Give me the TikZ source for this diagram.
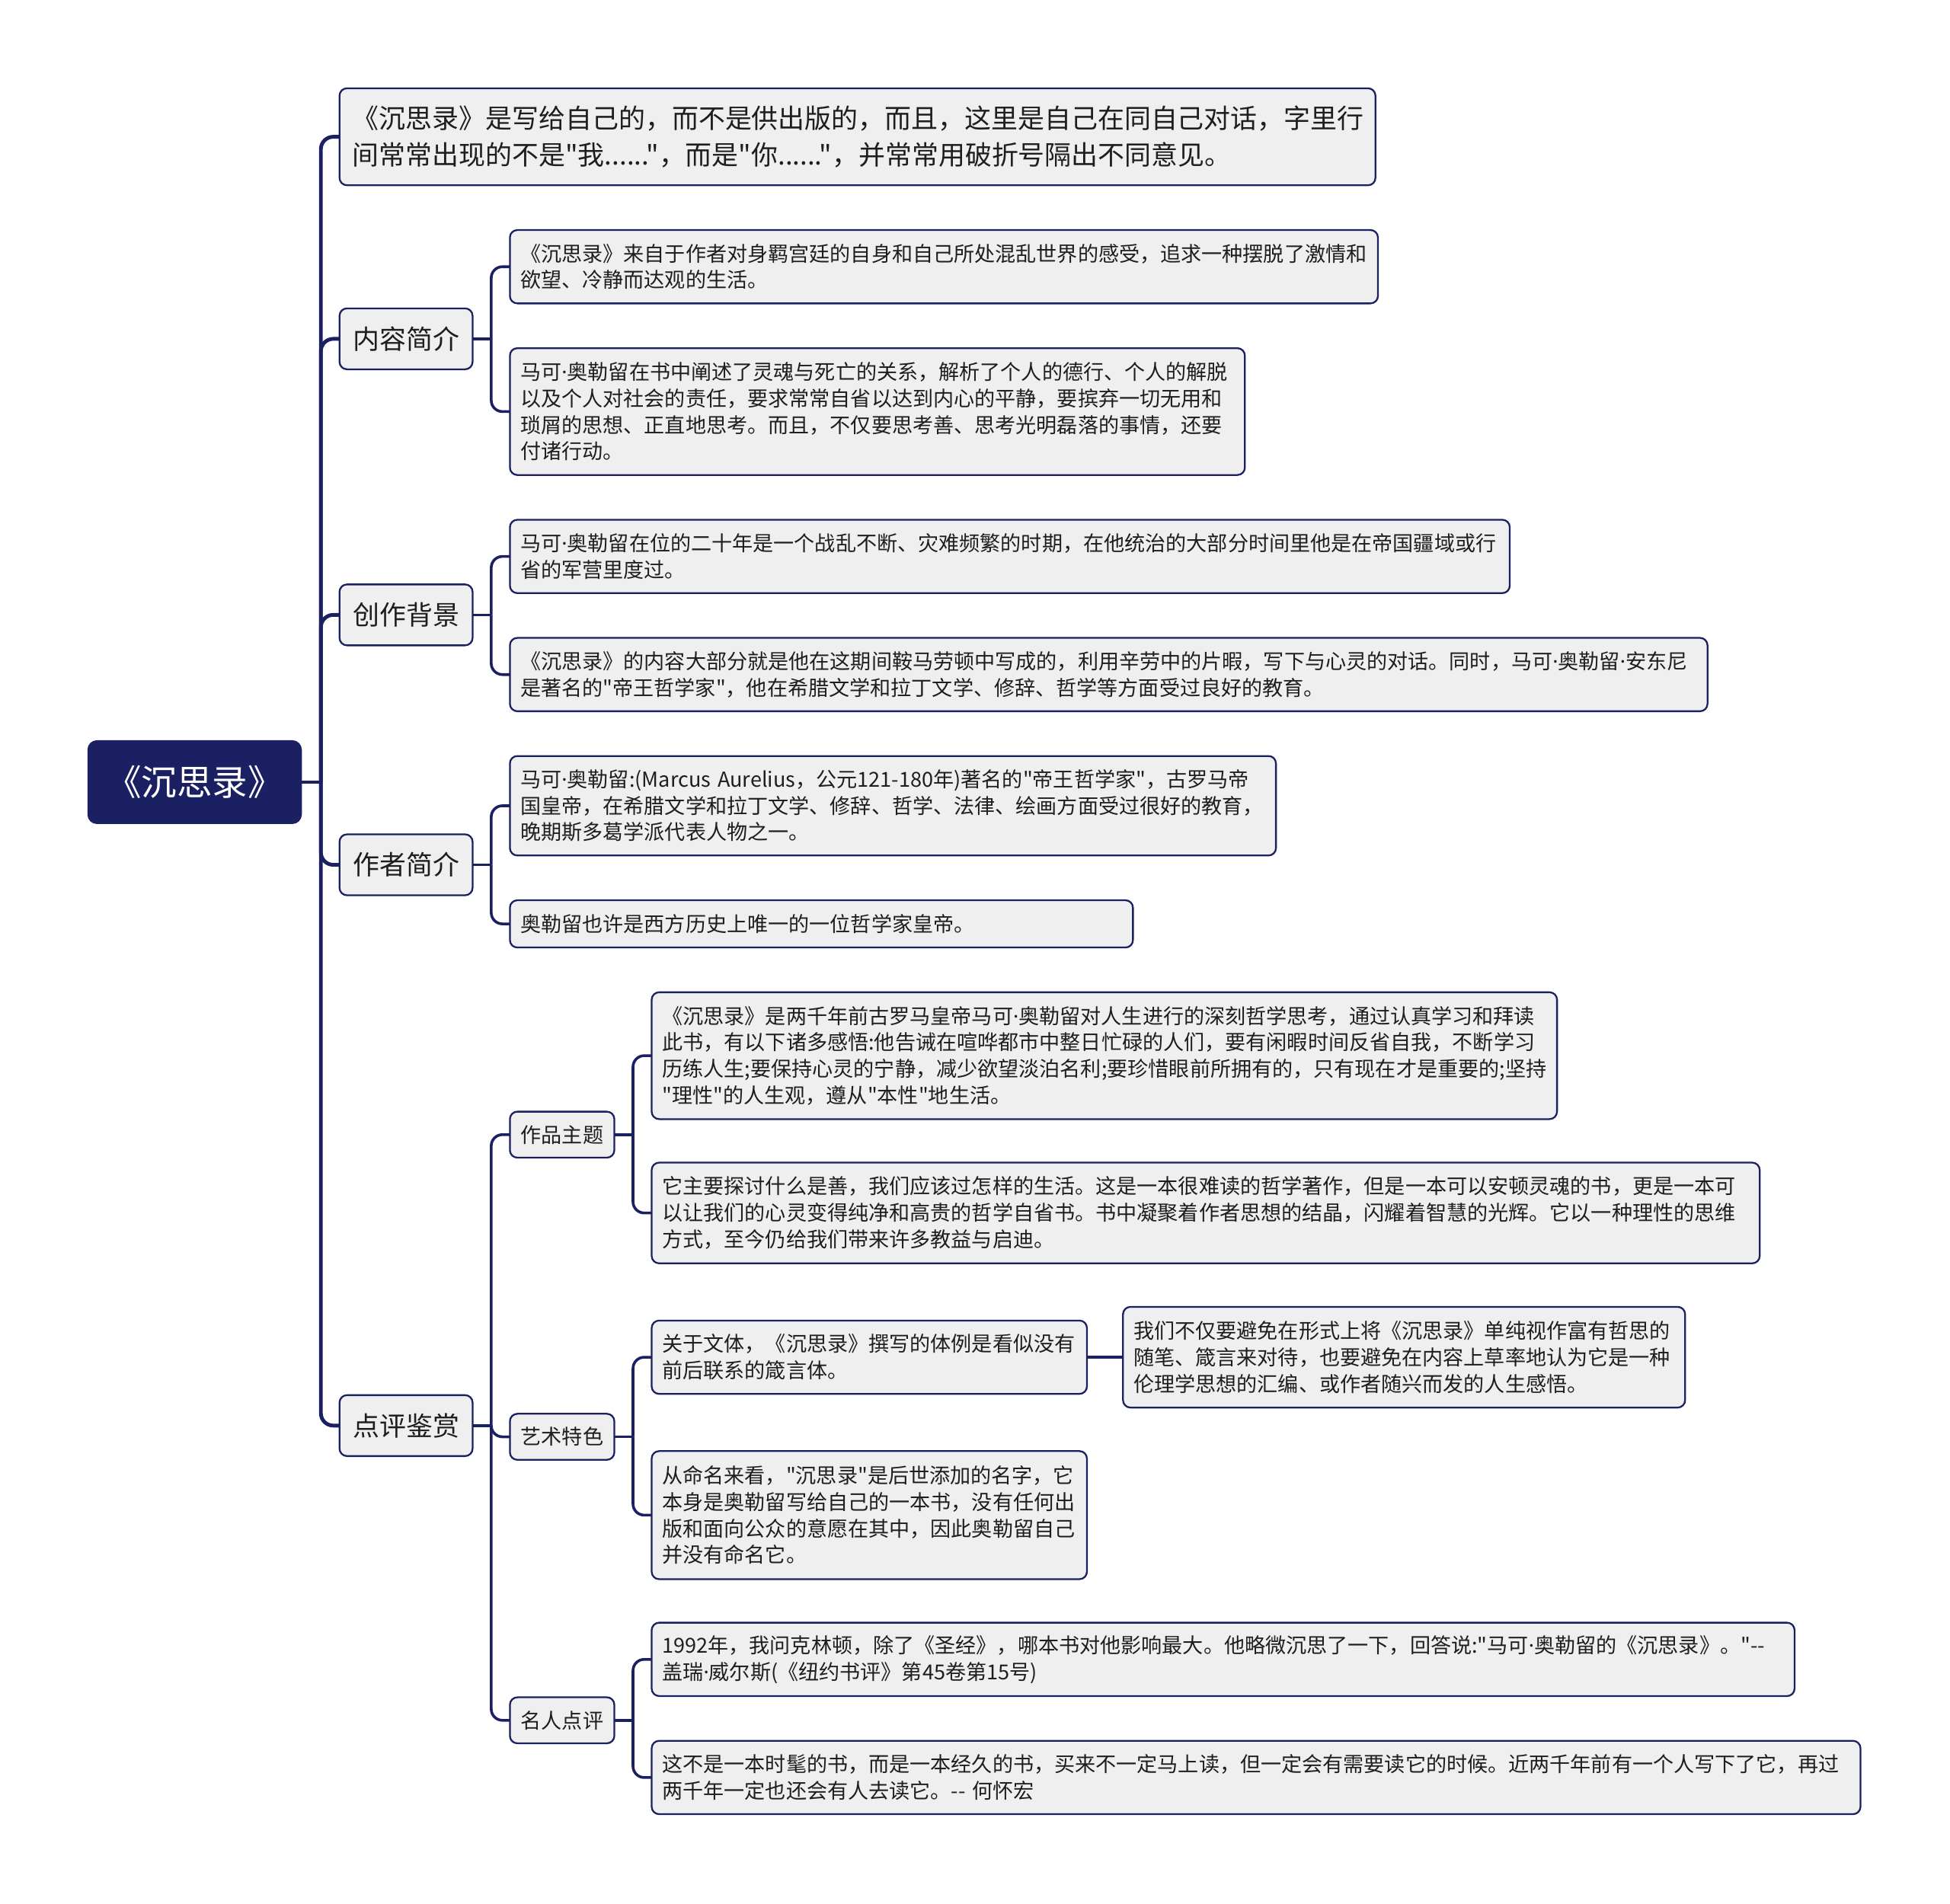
\documentclass[tikz,border=0pt]{standalone}
\usepackage{fontspec}
\newfontfamily\cjk{Noto Sans CJK SC}
\newfontfamily\dotf{Noto Sans}
\newcommand\md{{\dotf ·}}
\definecolor{navyc}{RGB}{27,32,99}
\definecolor{nodegray}{RGB}{239,239,239}
\definecolor{txtc}{RGB}{30,30,30}
\tikzset{
  basebox/.style={draw=navyc, fill=nodegray, line width=1.4pt, rounded corners=6pt,
    anchor=north west, outer sep=0pt, text=txtc, inner ysep=0pt},
  leaf/.style={basebox, align=left, font=\fontsize{16.6}{21.3}\selectfont\cjk},
  topbox/.style={basebox, align=left, font=\fontsize{21.4}{29}\selectfont\cjk},
  catbox/.style={basebox, align=center, font=\fontsize{21.4}{26}\selectfont\cjk},
  subbox/.style={basebox, align=center, font=\fontsize{16.6}{20}\selectfont\cjk},
  rootbox/.style={draw=navyc, fill=navyc, line width=1.4pt, rounded corners=7pt,
    anchor=north west, outer sep=0pt, text=white, inner ysep=0pt, align=center,
    font=\fontsize{28.5}{32}\selectfont\cjk},
  trunk/.style={draw=navyc, line width=3pt, rounded corners=10pt},
  link/.style={draw=navyc, line width=2.2pt, rounded corners=9pt},
}
% name, x1, y1, x2, y2, style, horizontal padding, text
\newcommand\bx[8]{%
  \pgfmathsetmacro\bxw{#4-#2}%
  \pgfmathsetmacro\bxh{#5-#3}%
  \pgfmathsetmacro\bxt{#4-#2-2*#7}%
  \node[#6, inner xsep=#7pt, minimum width=\bxw pt, minimum height=\bxh pt, text width=\bxt pt] (#1) at (#2,#3) {#8};}
\begin{document}
\begin{tikzpicture}[x=1pt,y=-1pt]
\fill[white] (0,0) rectangle (1568,1531);
\useasboundingbox (0,0) rectangle (1568,1531);

% root
\bx{root}{71}{596}{242}{662}{rootbox}{0}{《沉思录》}

% level 1
\bx{top}{273}{71}{1106}{149}{topbox}{10.5}{《沉思录》是写给自己的，而不是供出版的，而且，这里是自己在同自己对话，字里行\\间常常出现的不是"我......"，而是"你......"，并常常用破折号隔出不同意见。}
\bx{c1}{273}{248}{380}{297}{catbox}{0}{内容简介}
\bx{c2}{273}{470}{380}{519}{catbox}{0}{创作背景}
\bx{c3}{273}{671}{380}{720}{catbox}{0}{作者简介}
\bx{c4}{273}{1122}{380}{1171}{catbox}{0}{点评鉴赏}

% 内容简介
\bx{a}{410}{185}{1108}{244}{leaf}{8.5}{《沉思录》来自于作者对身羁宫廷的自身和自己所处混乱世界的感受，追求一种摆脱了激情和\\欲望、冷静而达观的生活。}
\bx{b}{410}{280}{1001}{382}{leaf}{8.5}{马可\md{}奥勒留在书中阐述了灵魂与死亡的关系，解析了个人的德行、个人的解脱\\以及个人对社会的责任，要求常常自省以达到内心的平静，要摈弃一切无用和\\琐屑的思想、正直地思考。而且，不仅要思考善、思考光明磊落的事情，还要\\付诸行动。}

% 创作背景
\bx{c}{410}{418}{1214}{477}{leaf}{8.5}{马可\md{}奥勒留在位的二十年是一个战乱不断、灾难频繁的时期，在他统治的大部分时间里他是在帝国疆域或行\\省的军营里度过。}
\bx{d}{410}{513}{1373}{572}{leaf}{8.5}{《沉思录》的内容大部分就是他在这期间鞍马劳顿中写成的，利用辛劳中的片暇，写下与心灵的对话。同时，马可\md{}奥勒留\md{}安东尼\\是著名的"帝王哲学家"，他在希腊文学和拉丁文学、修辞、哲学等方面受过良好的教育。}

% 作者简介
\bx{e}{410}{608}{1026}{688}{leaf}{8.5}{马可\md{}奥勒留:(Marcus Aurelius，公元121-180年)著名的"帝王哲学家"，古罗马帝\\国皇帝，在希腊文学和拉丁文学、修辞、哲学、法律、绘画方面受过很好的教育，\\晚期斯多葛学派代表人物之一。}
\bx{f}{410}{724}{911}{762}{leaf}{8.5}{奥勒留也许是西方历史上唯一的一位哲学家皇帝。}

% 点评鉴赏
\bx{s1}{410}{894}{494}{931}{subbox}{0}{作品主题}
\bx{s2}{410}{1137}{494}{1174}{subbox}{0}{艺术特色}
\bx{s3}{410}{1365}{494}{1402}{subbox}{0}{名人点评}

\bx{g}{524}{798}{1252}{900}{leaf}{8.5}{《沉思录》是两千年前古罗马皇帝马可\md{}奥勒留对人生进行的深刻哲学思考，通过认真学习和拜读\\此书，有以下诸多感悟:他告诫在喧哗都市中整日忙碌的人们，要有闲暇时间反省自我，不断学习\\历练人生;要保持心灵的宁静，减少欲望淡泊名利;要珍惜眼前所拥有的，只有现在才是重要的;坚持\\"理性"的人生观，遵从"本性"地生活。}
\bx{h}{524}{935}{1415}{1016}{leaf}{8.5}{它主要探讨什么是善，我们应该过怎样的生活。这是一本很难读的哲学著作，但是一本可以安顿灵魂的书，更是一本可\\以让我们的心灵变得纯净和高贵的哲学自省书。书中凝聚着作者思想的结晶，闪耀着智慧的光辉。它以一种理性的思维\\方式，至今仍给我们带来许多教益与启迪。}

\bx{i}{524}{1062}{874}{1121}{leaf}{8.5}{关于文体，《沉思录》撰写的体例是看似没有\\前后联系的箴言体。}
\bx{j}{903}{1051}{1355}{1132}{leaf}{8.5}{我们不仅要避免在形式上将《沉思录》单纯视作富有哲思的\\随笔、箴言来对待，也要避免在内容上草率地认为它是一种\\伦理学思想的汇编、或作者随兴而发的人生感悟。}
\bx{k}{524}{1167}{874}{1270}{leaf}{8.5}{从命名来看，"沉思录"是后世添加的名字，它\\本身是奥勒留写给自己的一本书，没有任何出\\版和面向公众的意愿在其中，因此奥勒留自己\\并没有命名它。}

\bx{l}{524}{1305}{1443}{1364}{leaf}{8.5}{1992年，我问克林顿，除了《圣经》，哪本书对他影响最大。他略微沉思了一下，回答说:"马可\md{}奥勒留的《沉思录》。"--\\盖瑞\md{}威尔斯(《纽约书评》第45卷第15号)}
\bx{m}{524}{1400}{1496}{1459}{leaf}{8.5}{这不是一本时髦的书，而是一本经久的书，买来不一定马上读，但一定会有需要读它的时候。近两千年前有一个人写下了它，再过\\两千年一定也还会有人去读它。-- 何怀宏}

% junction coordinates
\coordinate (jr) at (258,629);
\coordinate (j1) at (395,272.5);
\coordinate (j2) at (395,494.5);
\coordinate (j3) at (395,695.5);
\coordinate (j4) at (395,1146.5);
\coordinate (js1) at (509,912.5);
\coordinate (js2) at (509,1155.5);
\coordinate (js3) at (509,1383.5);

% connectors
\draw[trunk] (root.east) -- (jr);
\foreach \n in {top,c1,c2,c3,c4} \draw[trunk] (jr) |- (\n.west);

\draw[link] (c1.east) -- (j1);
\foreach \n in {a,b} \draw[link] (j1) |- (\n.west);
\draw[link] (c2.east) -- (j2);
\foreach \n in {c,d} \draw[link] (j2) |- (\n.west);
\draw[link] (c3.east) -- (j3);
\foreach \n in {e,f} \draw[link] (j3) |- (\n.west);
\draw[link] (c4.east) -- (j4);
\foreach \n in {s1,s2,s3} \draw[link] (j4) |- (\n.west);

\draw[link] (s1.east) -- (js1);
\foreach \n in {g,h} \draw[link] (js1) |- (\n.west);
\draw[link] (s2.east) -- (js2);
\foreach \n in {i,k} \draw[link] (js2) |- (\n.west);
\draw[link] (i.east) -- (j.west);
\draw[link] (s3.east) -- (js3);
\foreach \n in {l,m} \draw[link] (js3) |- (\n.west);
\end{tikzpicture}
\end{document}
